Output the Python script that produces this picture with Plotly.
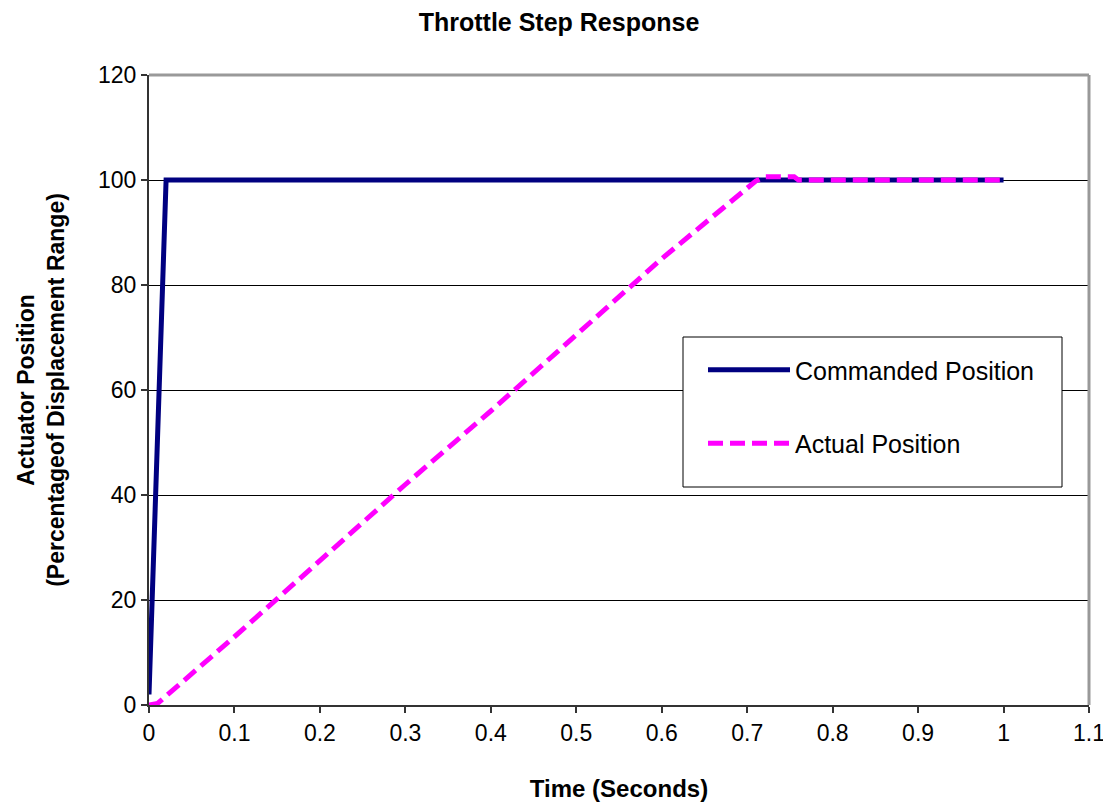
import plotly.graph_objects as go

# Data
time_cmd = [0.0, 0.02, 0.1, 0.2, 0.3, 0.4, 0.5, 0.6, 0.7, 0.8, 0.9, 1.0]
cmd_pos = [2, 100, 100, 100, 100, 100, 100, 100, 100, 100, 100, 100]

time_act = [0.0, 0.01, 0.1, 0.2, 0.3, 0.4, 0.5, 0.6, 0.71, 0.72, 0.755, 0.76, 0.8, 0.9, 1.0]
act_pos = [0, 0.3, 13, 27.5, 42, 56, 70.5, 85, 99.8, 100.6, 100.6, 100, 100, 100, 100]

x_ticks = [0, 0.1, 0.2, 0.3, 0.4, 0.5, 0.6, 0.7, 0.8, 0.9, 1.0, 1.1]
x_tick_labels = ["0", "0.1", "0.2", "0.3", "0.4", "0.5", "0.6", "0.7", "0.8", "0.9", "1", "1.1"]
y_ticks = [0, 20, 40, 60, 80, 100, 120]

FONT = "Liberation Sans, Arial, sans-serif"

# page has an 8px body margin; figure is sized/placed to compensate
OFF = 8
W, H = 1111 - OFF, 802 - OFF
PL, PR, PT, PB = 149, 1089, 75, 705  # plot area in page pixels


def px_x(px):
    return (px - PL) / (PR - PL)


def px_y(py):
    return (PB - py) / (PB - PT)


fig = go.Figure()
fig.add_trace(go.Scatter(x=time_cmd, y=cmd_pos, mode="lines", name="Commanded Position",
                         legendgroup="a",
                         line=dict(color="#000080", width=5), cliponaxis=False))
fig.add_trace(go.Scatter(x=time_act, y=act_pos, mode="lines", name="Actual Position",
                         legendgroup="b",
                         line=dict(color="#FF00FF", width=5, dash="15px,7px"), cliponaxis=False))

fig.update_layout(
    width=W, height=H,
    margin=dict(l=PL - OFF, r=W - (PR - OFF), t=PT - OFF, b=H - (PB - OFF)),
    paper_bgcolor="white", plot_bgcolor="white",
    font=dict(family=FONT, color="black", size=23),
    title=dict(text="<b>Throttle Step Response</b>", x=(559 - OFF) / W, xanchor="center",
               y=1 - (22 - OFF) / H, yanchor="middle", font=dict(size=25, family=FONT)),
    xaxis=dict(range=[0, 1.1], tickvals=x_ticks, ticktext=x_tick_labels,
               showgrid=False, zeroline=False, showline=True, linecolor="#333333", linewidth=2,
               ticks="outside", ticklen=6, tickcolor="#333333", tickwidth=2,
               tickfont=dict(size=23), automargin=False,
               title=dict(text="<b>Time (Seconds)</b>", font=dict(size=24), standoff=40)),
    yaxis=dict(range=[0, 120], tickvals=y_ticks,
               showgrid=True, gridcolor="#000000", gridwidth=1, zeroline=False,
               showline=True, linecolor="#333333", linewidth=2,
               ticks="outside", ticklen=6, tickcolor="#333333", tickwidth=2,
               tickfont=dict(size=23), automargin=False,
               title=dict(text="<b>Actuator Position<br>(Percentageof Displacement Range)</b>",
                          font=dict(size=23), standoff=27)),
    legend=dict(x=px_x(703), y=px_y(347), xanchor="left", yanchor="top",
                borderwidth=0, bgcolor="rgba(0,0,0,0)",
                font=dict(size=25), tracegroupgap=38, itemwidth=82),
    showlegend=True,
)

# Legend frame (white box with black border), drawn below the legend
fig.add_shape(type="rect", xref="paper", yref="paper",
              x0=px_x(683), x1=px_x(1062), y0=px_y(487), y1=px_y(337),
              line=dict(color="#000000", width=1), fillcolor="white", layer="above")

# Gray top/right plot border
fig.add_shape(type="line", xref="paper", yref="paper", x0=0, x1=1, y0=1, y1=1,
              line=dict(color="#999999", width=3), layer="above")
fig.add_shape(type="line", xref="paper", yref="paper", x0=1, x1=1, y0=0, y1=1,
              line=dict(color="#999999", width=3), layer="above")

fig.write_html("out.html")
